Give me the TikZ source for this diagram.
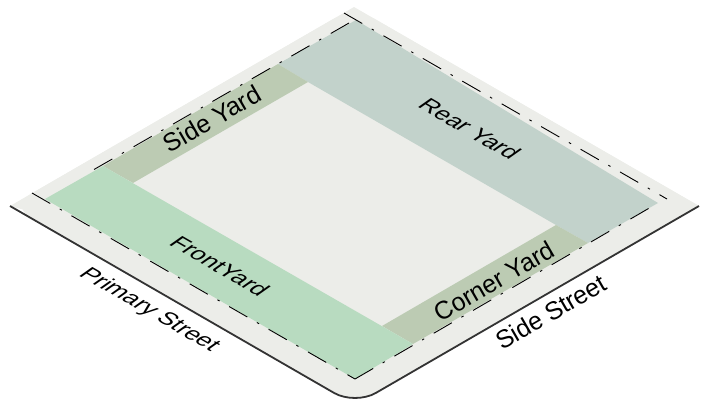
\documentclass[tikz,border=0pt]{standalone}
\usepackage{fontspec}
\setmainfont{Liberation Sans}
\usetikzlibrary{calc}

\begin{document}
\begin{tikzpicture}[x=1pt,y=-1pt]
    \tikzstyle{yard}=[draw=none]
    \tikzstyle{yardlabel}=[inner sep=0pt, font=\fontsize{24}{28}\selectfont, text=black]
    \tikzstyle{upslope}=[yardlabel, rotate=30, xscale=1.04, yscale=1.06]
    \tikzstyle{downslope}=[yardlabel, cm={.866,-.5,.78,.55,(0,0)}]
    \tikzstyle{setback}=[draw=black, line width=0.9pt, dash pattern=on 21pt off 11pt on 2.5pt off 11pt]
    \tikzstyle{curb}=[draw=black!80, line width=1.8pt, rounded corners=24pt]
    \definecolor{lotgray}{HTML}{ECEDE9}
    \definecolor{rearblue}{HTML}{C2D2CB}
    \definecolor{sidesage}{HTML}{BCCBB3}
    \definecolor{frontgreen}{HTML}{B8DBC0}
    \useasboundingbox (0,0) rectangle (705,400);
    \coordinate (lotL) at (10,206);
    \coordinate (lotT) at (354,7);
    \coordinate (lotR) at (699,206);
    \coordinate (lotB) at (355,405);
    \coordinate (inT) at (308,82);
    \coordinate (inR) at (556,225);
    \coordinate (inB) at (382,326);
    \coordinate (inL) at (133,183);
    \coordinate (yardT) at (356,20);
    \coordinate (yardR) at (658,203);
    \coordinate (yardB) at (355,379);
    \coordinate (yardL) at (45,199);
    \coordinate (rearL) at (278,64);
    \coordinate (rearB) at (588,243);
    \coordinate (frontT) at (103,166);
    \coordinate (frontR) at (413,344);
    \fill[lotgray, rounded corners=24pt] (lotL) -- (lotT) [sharp corners] -- (lotR) [rounded corners=24pt] -- (lotB) -- cycle;
    \fill[lotgray] (lotL) -- (lotT) -- (lotR) -- (355,300) -- cycle;
    \fill[rearblue,yard] (rearL) -- (yardT) -- (yardR) -- (rearB) -- (inR) -- (inT) -- cycle;
    \fill[sidesage,yard] (rearL) -- (inT) -- (inL) -- (frontT) -- cycle;
    \fill[sidesage,yard] (inB) -- (inR) -- (rearB) -- (frontR) -- cycle;
    \fill[frontgreen,yard] (yardL) -- (frontT) -- (frontR) -- (yardB) -- cycle;
    \draw[curb] (lotL) -- (lotB) -- (lotR);
    \coordinate (lineNa) at (344,13);
    \coordinate (lineNb) at (667,199);
    \coordinate (lineWa) at (349,23);
    \coordinate (lineWb) at (94,169.5);
    \coordinate (lineSa) at (32,193);
    \draw[setback] (lineNa) -- (lineNb);
    \draw[setback] (lineWa) -- (lineWb);
    \draw[setback] (lineSa) -- (yardB);
    \draw[setback] (yardB) -- (yardR);
    \node[upslope] (side) at (212,119) {Side Yard};
    \node[downslope] (rear) at (470,129) {Rear Yard};
    \node[downslope] (front) at (220,266) {FrontYard};
    \node[upslope] (corner) at (494,281) {Corner Yard};
    \node[downslope] (primary) at (149,310) {Primary Street};
    \node[upslope] (sidestreet) at (551,312) {Side Street};
\end{tikzpicture}
\end{document}
